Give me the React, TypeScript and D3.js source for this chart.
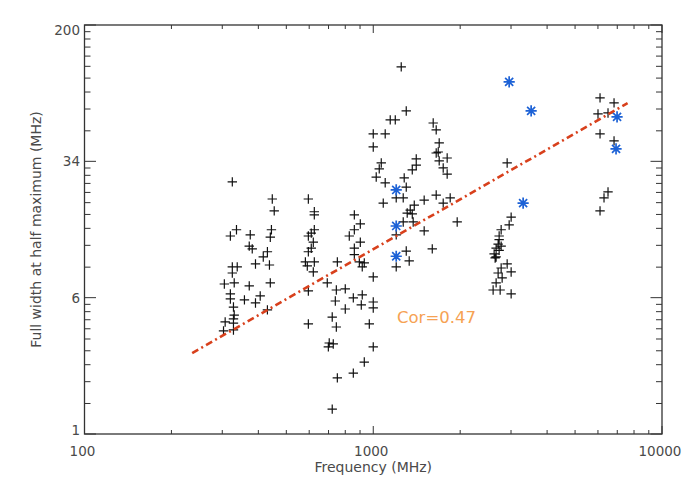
import React from "react";
import * as d3 from "d3";

// ---- data (MHz) ----
const freqBlack: number[] = [
  325, 447, 454, 336, 320, 375, 444, 440, 372, 381, 430, 416, 391, 437, 325, 338, 325, 305, 330, 372,
  440, 320, 320, 406, 358, 391, 328, 430, 330, 307, 328, 328, 303, 328,
  596, 625, 625, 860, 902, 860, 826, 902, 860, 860, 895, 931, 916, 751, 1000, 625, 610, 596, 620, 610,
  596, 582, 625, 591, 620, 596, 693, 745, 800, 739, 853, 916, 909, 800, 1000, 1000, 721, 745, 596, 969,
  704, 699, 727, 1000, 931, 853, 751, 721, 1083,
  1250, 1301, 1145, 1192, 1000, 1100, 1000, 1613, 1652, 1692, 1679, 1652, 1803, 1692, 1747, 1803, 1409, 1409, 1365, 1066,
  1049, 1024, 1100, 1280, 1301, 1201, 1270, 1501, 1652, 1847, 1747, 1387, 1343, 1311, 1365, 1270, 1375, 1201, 1501, 1953,
  1601, 1301, 1332, 1201,
  3003, 2956, 2773, 2729, 2729, 2707, 2773, 2664, 2729, 2622, 2664, 2643, 2909, 2773, 3003, 2707, 2795, 2664, 2601, 2751,
  3003, 2909,
  6101, 6822, 6003, 6502, 6101, 6822, 6502, 6298, 6101,
];
const fwhmBlack: number[] = [
  26.2, 21.0, 18.0, 14.1, 13.0, 13.2, 14.1, 12.8, 11.4, 11.0, 10.6, 9.91, 9.05, 8.93, 8.71, 8.71, 8.05, 6.98, 7.08, 6.81,
  7.08, 6.14, 5.75, 5.98, 5.68, 5.46, 5.18, 4.99, 4.67, 4.27, 4.44, 4.21, 3.8, 3.85,
  21.0, 17.8, 17.1, 17.1, 15.2, 14.1, 13.0, 12.0, 11.1, 10.2, 9.29, 9.17, 8.71, 9.29, 7.65, 14.1, 13.5, 13.0, 12.0, 11.1,
  10.6, 9.29, 9.29, 8.82, 8.16, 6.38, 7.08, 6.46, 6.55, 5.6, 5.83, 6.06, 5.32, 5.05, 5.53, 5.12, 4.55, 4.0, 4.16, 4.16,
  3.25, 3.09, 3.21, 3.09, 2.54, 2.2, 2.07, 1.38, 19.9,
  116.2, 65.7, 58.5, 58.5, 48.8, 48.8, 41.2, 56.2, 51.4, 43.4, 38.6, 38.1, 35.7, 34.4, 31.4, 29.0, 35.3, 32.6, 30.6, 33.5,
  31.0, 27.9, 25.9, 27.6, 24.5, 21.3, 21.3, 20.7, 22.1, 21.3, 19.9, 19.4, 18.2, 17.5, 17.3, 15.6, 15.6, 13.2, 13.9, 15.6,
  11.0, 10.7, 9.41, 8.71,
  16.6, 15.0, 14.1, 13.0, 12.4, 11.7, 11.4, 11.1, 10.8, 10.3, 9.91, 9.78, 9.05, 8.59, 8.16, 8.05, 7.55, 7.08, 6.46, 6.46,
  6.14, 33.5,
  77.8, 72.9, 63.2, 64.0, 48.8, 44.6, 23.0, 21.3, 18.0,
];
const freqBlue: number[] = [2956, 3522, 6988, 6932, 3304, 1201, 1201, 1201];
const fwhmBlue: number[] = [95.7, 65.7, 60.8, 40.2, 19.9, 23.6, 14.8, 10.0];

const fitFreq: number[] = [236, 7600];
const fitFwhm: number[] = [2.85, 72.6];

const xTickValues: number[] = [100, 1000, 10000];
const xTickLabels: string[] = ["100", "1000", "10000"];
const yTickValues: number[] = [1, Math.pow(200, 1 / 3), Math.pow(200, 2 / 3), 200];
const yTickLabels: string[] = ["1", "6", "34", "200"];
const corText = "Cor=0.47";

const W = 687;
const H = 488;
const L = 84.5, R = 662, T = 25, B = 434;
const FONT = "'DejaVu Sans', sans-serif";
const TXT = "#4a4a4a";
const AX = "#333";

export default function App() {
  const x = d3.scaleLog().domain([100, 10000]).range([L, R]);
  const y = d3.scaleLog().domain([1, 200]).range([B, T]);

  const xMinor: number[] = [];
  for (const dec of [100, 1000]) for (let k = 2; k <= 9; k++) xMinor.push(dec * k);
  const yMinor: number[] = [];
  for (let i = 0; i < yTickValues.length - 1; i++) {
    const a = yTickValues[i], b = yTickValues[i + 1];
    for (let k = 1; k <= 9; k++) yMinor.push(a + ((b - a) * k) / 10);
  }

  const line = d3
    .line<number>()
    .x((_, i) => x(fitFreq[i]))
    .y((_, i) => y(fitFwhm[i]));

  const plus = (cx: number, cy: number, s = 4.7) => `M${cx - s},${cy}H${cx + s}M${cx},${cy - s}V${cy + s}`;
  const star = (cx: number, cy: number, s = 5.6) => {
    const d = s * 0.72;
    return `M${cx - s},${cy}H${cx + s}M${cx},${cy - s}V${cy + s}M${cx - d},${cy - d}L${cx + d},${cy + d}M${cx - d},${cy + d}L${cx + d},${cy - d}`;
  };

  const blackPath = freqBlack.map((f, i) => plus(x(f), y(fwhmBlack[i]))).join("");
  const bluePath = freqBlue.map((f, i) => star(x(f), y(fwhmBlue[i]))).join("");

  return (
    <svg width={W} height={H} style={{ position: "absolute", left: 0, top: 0, background: "#fff" }}>
      <rect x={0} y={0} width={W} height={H} fill="#fff" />
      {/* ticks */}
      <g stroke={AX} strokeWidth={1}>
        {xTickValues.map((v) => (
          <g key={"xM" + v}>
            <line x1={x(v)} x2={x(v)} y1={B} y2={B - 8} />
            <line x1={x(v)} x2={x(v)} y1={T} y2={T + 8} />
          </g>
        ))}
        {xMinor.map((v) => (
          <g key={"xm" + v}>
            <line x1={x(v)} x2={x(v)} y1={B} y2={B - 4} />
            <line x1={x(v)} x2={x(v)} y1={T} y2={T + 4} />
          </g>
        ))}
        {yTickValues.map((v) => (
          <g key={"yM" + v}>
            <line x1={L} x2={L + 11.5} y1={y(v)} y2={y(v)} />
            <line x1={R} x2={R - 11.5} y1={y(v)} y2={y(v)} />
          </g>
        ))}
        {yMinor.map((v) => (
          <g key={"ym" + v}>
            <line x1={L} x2={L + 6} y1={y(v)} y2={y(v)} />
            <line x1={R} x2={R - 6} y1={y(v)} y2={y(v)} />
          </g>
        ))}
      </g>
      <rect x={L} y={T} width={R - L} height={B - T} fill="none" stroke={AX} strokeWidth={1.3} />

      {/* tick labels */}
      <g fontFamily={FONT} fontSize={13.5} fill={TXT}>
        {xTickValues.map((v, i) => (
          <text key={"xl" + v} x={x(v) - 2} y={456} textAnchor="middle">
            {xTickLabels[i]}
          </text>
        ))}
        {yTickValues.map((v, i) => (
          <text
            key={"yl" + v}
            x={80}
            y={Math.min(Math.max(y(v), T + 4.5), B - 4.5)}
            textAnchor="end"
            dominantBaseline="central"
          >
            {yTickLabels[i]}
          </text>
        ))}
      </g>
      <text x={(L + R) / 2} y={472} textAnchor="middle" fontFamily={FONT} fontSize={14} fill={TXT}>
        Frequency (MHz)
      </text>
      <text
        transform={`translate(36,${(T + B) / 2}) rotate(-90)`}
        textAnchor="middle"
        dominantBaseline="central"
        fontFamily={FONT}
        fontSize={14}
        fill={TXT}
      >
        Full width at half maximum (MHz)
      </text>

      {/* points */}
      <path d={blackPath} stroke="#111" strokeWidth={1.2} fill="none" />
      <path d={bluePath} stroke="#1d62d6" strokeWidth={1.7} fill="none" />

      {/* fit line */}
      <path
        d={line(fitFreq) || ""}
        stroke="#d8401c"
        strokeWidth={2.6}
        fill="none"
        strokeDasharray="7,3.5,2,3.5"
      />

      <text x={397} y={323} fontFamily={FONT} fontSize={16.5} fill="#f6a253">
        {corText}
      </text>
    </svg>
  );
}
